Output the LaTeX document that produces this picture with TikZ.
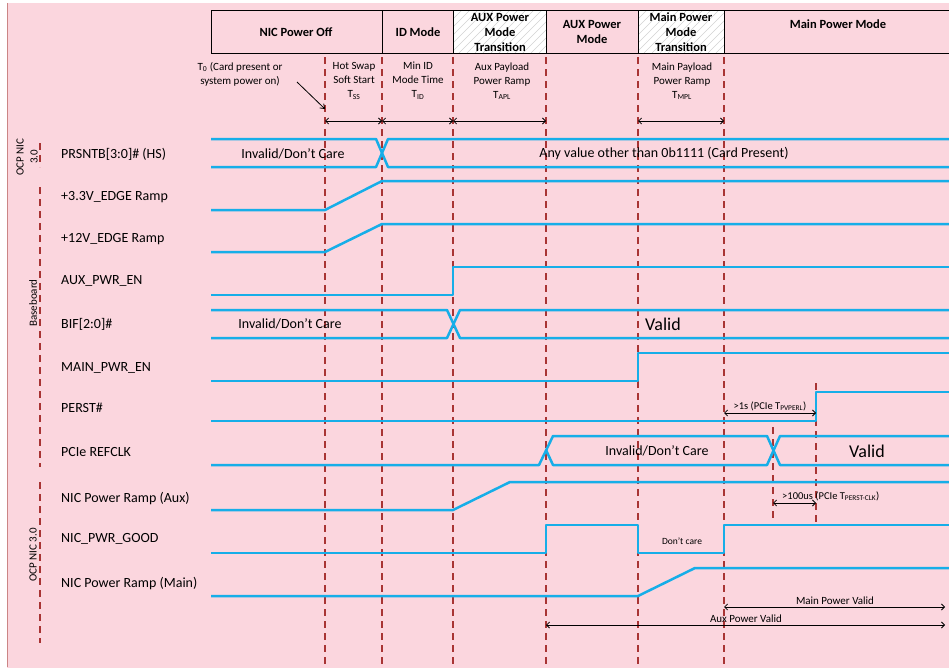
\documentclass[tikz,border=0pt]{standalone}
\usepackage{fontspec}
\setmainfont{Carlito}
\usepackage{tikz}
\usetikzlibrary{arrows.meta}
\definecolor{bgpink}{RGB}{251,214,222}
\definecolor{sigblue}{RGB}{22,174,232}
\definecolor{markred}{RGB}{168,52,52}

\begin{document}
\begin{tikzpicture}[x=1pt, y=-1pt,
          every node/.style={align=center, inner sep=0pt},
          sigline/.style={sigblue, line width=2.5pt, line join=round},
          eventline/.style={markred, line width=1.2pt, dash pattern=on 7pt off 5pt},
          dimarrow/.style={{Straight Barb[length=3pt,width=6pt]}-{Straight Barb[length=3pt,width=6pt]}, line width=0.8pt},
          siglabel/.style={anchor=west, font=\fontsize{14}{16}\selectfont},
          hdrtext/.style={font=\bfseries\fontsize{12.5}{15}\selectfont},
          notetext/.style={font=\fontsize{11}{14}\selectfont},
          smalltext/.style={font=\fontsize{10.5}{12}\selectfont},
          bustext/.style={font=\fontsize{14}{16}\selectfont},
          validtext/.style={font=\fontsize{18}{20}\selectfont},
          grouptext/.style={font=\fontsize{11}{14}\selectfont, rotate=90}
        ]
          \useasboundingbox (0,0) rectangle (949,667);

          % Background
          \fill[bgpink] (7,3) rectangle (960,670);
          \draw[markred!60, line width=0.8pt] (7,3) -- (7,667);

          % Hatched transition boxes
          \fill[white] (453,10) rectangle (546,53);
          \fill[white] (638,10) rectangle (724,53);
          \begin{scope}
            \clip (453,10) rectangle (546,53);
            \foreach \k in {0,...,18}
              \draw[gray!35, line width=0.6pt] (403+\k*8,53) -- ++(50,-50);
          \end{scope}
          \begin{scope}
            \clip (638,10) rectangle (724,53);
            \foreach \k in {0,...,18}
              \draw[gray!35, line width=0.6pt] (588+\k*8,53) -- ++(50,-50);
          \end{scope}

          % Header row
          \draw[line width=0.9pt] (211,10) rectangle (960,53);
          \foreach \x in {382,453,546,638,724}
            \draw[line width=0.9pt] (\x,10) -- (\x,53);
          \node[hdrtext] (off) at (296,32) {NIC Power Off};
          \node[hdrtext] (idmode) at (418,32) {ID Mode};
          \node[hdrtext] (auxtrans) at (500,32) {AUX Power\\Mode\\Transition};
          \node[hdrtext] (auxmode) at (592,32) {AUX Power\\Mode};
          \node[hdrtext] (maintrans) at (681,32) {Main Power\\Mode\\Transition};
          \node[hdrtext] (mainmode) at (838,24) {Main Power Mode};

          % Event lines
          \foreach \x in {325,382,453,546,638,724}
            \draw[eventline] (\x,57) -- (\x,667);
          \draw[eventline] (773,427) -- (773,522);
          \draw[eventline] (816,383) -- (816,522);
          \draw[eventline] (40,143) -- (40,167);
          \draw[eventline] (40,187) -- (40,467);
          \draw[eventline] (40,482) -- (40,643);

          % Timing notes
          \node[notetext] (t0note) at (240,74) {T\textsubscript{0} (Card present or\\system power on)};
          \node[notetext] (tss) at (354,81) {Hot Swap\\Soft Start\\T\textsubscript{SS}};
          \node[notetext] (tid) at (418,81) {Min ID\\Mode Time\\T\textsubscript{ID}};
          \node[notetext] (tapl) at (502,81) {Aux Payload\\Power Ramp\\T\textsubscript{APL}};
          \node[notetext] (tmpl) at (682,81) {Main Payload\\Power Ramp\\T\textsubscript{MPL}};
          \coordinate (t0from) at (297,82);
          \coordinate (t0tip) at (325,109);
          \draw[-{Straight Barb[length=4pt,width=6pt]}, line width=0.8pt] (t0from) -- (t0tip);

          % Interval arrows
          \coordinate (m0) at (325,121);
          \coordinate (m1) at (382,121);
          \coordinate (m2) at (453,121);
          \coordinate (m3) at (546,121);
          \coordinate (m4) at (638,121);
          \coordinate (m5) at (724,121);
          \draw[dimarrow] (m0) -- (m1);
          \draw[dimarrow] (m1) -- (m2);
          \draw[dimarrow] (m2) -- (m3);
          \draw[dimarrow] (m4) -- (m5);

          % Group labels
          \node[grouptext] (grpnic) at (27,157) {OCP NIC\\3.0};
          \node[grouptext] (grpbase) at (33,303) {Baseboard};
          \node[grouptext] (grpcard) at (33,555) {OCP NIC 3.0};

          % Signal names
          \node[siglabel] (prsnt) at (61,154) {PRSNTB[3:0]\# (HS)};
          \node[siglabel] (edge3) at (61,197) {+3.3V\_EDGE Ramp};
          \node[siglabel] (edge12) at (61,239) {+12V\_EDGE Ramp};
          \node[siglabel] (auxen) at (61,281) {AUX\_PWR\_EN};
          \node[siglabel] (bif) at (61,324) {BIF[2:0]\#};
          \node[siglabel] (mainen) at (61,368) {MAIN\_PWR\_EN};
          \node[siglabel] (perst) at (61,408) {PERST\#};
          \node[siglabel] (refclk) at (61,452) {PCIe REFCLK};
          \node[siglabel] (rampaux) at (61,498) {NIC Power Ramp (Aux)};
          \node[siglabel] (pwrgood) at (61,539) {NIC\_PWR\_GOOD};
          \node[siglabel] (rampmain) at (61,583) {NIC Power Ramp (Main)};

          % Waveforms
          \draw[sigline] (211,139) -- (376,139) -- (388,167) -- (960,167);
          \draw[sigline] (211,167) -- (376,167) -- (388,139) -- (960,139);
          \draw[sigline] (211,210) -- (325,210) -- (382,181) -- (960,181);
          \draw[sigline] (211,252) -- (325,252) -- (382,224) -- (960,224);
          \draw[sigline] (211,295) -- (453,295) -- (453,267) -- (960,267);
          \draw[sigline] (211,310) -- (447,310) -- (460,338) -- (960,338);
          \draw[sigline] (211,338) -- (447,338) -- (460,310) -- (960,310);
          \draw[sigline] (211,381) -- (638,381) -- (638,353) -- (960,353);
          \draw[sigline] (211,421) -- (816,421) -- (816,392) -- (960,392);
          \draw[sigline] (211,465) -- (539,465) -- (553,436) -- (767,436) -- (780,465) -- (960,465);
          \draw[sigline] (546,450) -- (553,465) -- (767,465) -- (780,436) -- (960,436);
          \draw[sigline] (211,510) -- (453,510) -- (510,482) -- (960,482);
          \draw[sigline] (211,553) -- (546,553) -- (546,525) -- (638,525) -- (638,553) -- (724,553) -- (724,525) -- (960,525);
          \draw[sigline] (211,596) -- (638,596) -- (695,568) -- (960,568);

          % Bus values
          \node[bustext] (prsntold) at (293,154) {Invalid/Don’t Care};
          \node[bustext] (prsntnew) at (664,154) {Any value other than 0b1111 (Card Present)};
          \node[bustext] (bifold) at (290,324) {Invalid/Don’t Care};
          \node[validtext] (bifnew) at (663,324) {Valid};
          \node[bustext] (clkold) at (657,451) {Invalid/Don’t Care};
          \node[validtext] (clknew) at (867,451) {Valid};
          \node[font=\fontsize{9.5}{11}\selectfont] (dontcare) at (682,541) {Don’t care};

          % PCIe timing
          \coordinate (pv0) at (724,413);
          \coordinate (pv1) at (816,413);
          \draw[dimarrow] (pv0) -- (pv1);
          \node[smalltext] (pvperl) at (770,406) {>1s (PCIe T\textsubscript{PVPERL})};
          \coordinate (pc0) at (773,503);
          \coordinate (pc1) at (816,503);
          \draw[dimarrow] (pc0) -- (pc1);
          \node[smalltext, anchor=west] (perstclk) at (782,496) {>100us (PCIe T\textsubscript{PERST-CLK})};

          % Power valid ranges
          \coordinate (mv0) at (724,607);
          \coordinate (mv1) at (945,607);
          \coordinate (av0) at (546,625);
          \coordinate (av1) at (945,625);
          \draw[dimarrow] (mv0) -- (mv1);
          \draw[dimarrow] (av0) -- (av1);
          \node[notetext] (mainvalid) at (835,601) {Main Power Valid};
          \node[notetext] (auxvalid) at (746,619) {Aux Power Valid};
        \end{tikzpicture}
\end{document}
